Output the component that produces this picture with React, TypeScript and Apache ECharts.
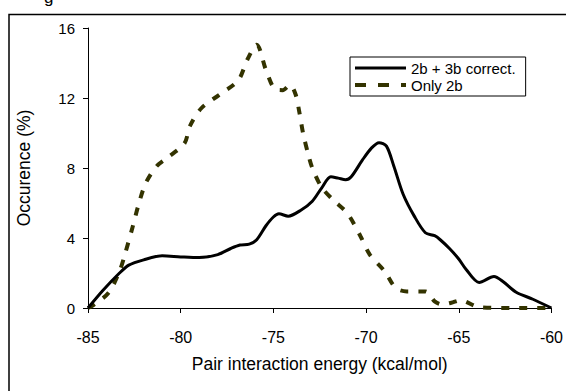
import React, { useEffect, useRef } from "react";
import * as echarts from "echarts";

// X tick range (kcal/mol)
const xMin = -85;
const xMax = -60;
const xInterval = 5;
// Y tick range (%)
const yMin = 0;
const yMax = 16;
const yInterval = 4;

const seriesNames = ["2b + 3b correct.", "Only 2b"];

// Series 1: 2b + 3b correct.
const fullEnergy = [
  -85, -84.2, -83.3, -82.8, -82, -81, -80, -79, -78, -77.3, -76.8, -76.3, -75.9,
  -75.4, -75, -74.7, -74.2, -73.5, -72.9, -72.4, -71.9, -71.5, -71.1, -70.8,
  -70.2, -69.7, -69.3, -68.9, -68.5, -68, -67.4, -66.8, -66.3, -66, -65.5, -65,
  -64.6, -63.9, -63.1, -62.6, -61.9, -61, -60,
];
const fullOccurrence = [
  0, 1.0, 2.0, 2.45, 2.75, 2.98, 2.92, 2.88, 3.05, 3.4, 3.6, 3.65, 3.9, 4.7,
  5.2, 5.38, 5.25, 5.6, 6.1, 6.85, 7.5, 7.42, 7.33, 7.5, 8.45, 9.15, 9.45, 9.25,
  8.1, 6.5, 5.25, 4.3, 4.13, 3.9, 3.4, 2.8, 2.2, 1.46, 1.8, 1.5, 0.9, 0.5, 0,
];

// Series 2: Only 2b
const twoBodyEnergy = [
  -85, -84.8, -83.9, -83.3, -83, -82.6, -82.3, -81.9, -81.3, -80.7, -79.8,
  -79.5, -78.9, -77.9, -76.9, -76.4, -75.9, -75.4, -74.9, -74.5, -74.1, -73.8,
  -73.6, -73.4, -73.1, -72.9, -72.4, -71.8, -71, -70.3, -69.8, -69, -68.4,
  -67.8, -66.8, -66.3, -65.9, -65.4, -64.9, -63.9, -62, -60,
];
const twoBodyOccurrence = [
  0, 0.1, 0.86, 2.1, 3.1, 4.6, 5.8, 7.1, 8.1, 8.6, 9.4, 10.4, 11.4, 12.2, 13.0,
  14.2, 15.05, 13.6, 12.5, 12.45, 12.75, 12.2, 11.2, 10.0, 8.7, 8.0, 6.9, 6.2,
  5.4, 4.1, 3.05, 2.1, 1.14, 0.95, 0.95, 0.38, 0.2, 0.3, 0.44, 0.05, 0, 0,
];

const FONT = "'Liberation Sans', Arial, sans-serif";

export default function App() {
  const ref = useRef<HTMLDivElement>(null);

  useEffect(() => {
    if (!ref.current) return;
    const chart = echarts.init(ref.current, undefined, { renderer: "svg" });
    const pairs = (xs: number[], ys: number[]) => xs.map((x, i) => [x, ys[i]]);

    chart.setOption({
      animation: false,
      backgroundColor: "#ffffff",
      textStyle: { fontFamily: FONT },
      grid: { left: 88, right: 13, top: 28, bottom: 83, containLabel: false },
      graphic: [
        {
          type: "rect",
          shape: { x: 9, y: 14.5, width: 700, height: 500 },
          style: { fill: "none", stroke: "#000", lineWidth: 1.5 },
          silent: true,
          z: -1,
        },
        {
          type: "text",
          x: 44,
          y: 6,
          style: {
            text: "g",
            fontSize: 17,
            fontFamily: FONT,
            fill: "#000",
            verticalAlign: "bottom",
          },
          silent: true,
        },
      ],
      legend: {
        show: true,
        orient: "vertical",
        left: 350,
        top: 57,
        padding: [3.5, 10, 3.5, 3],
        itemWidth: 51,
        itemHeight: 14,
        itemGap: 2,
        borderColor: "#000",
        borderWidth: 1,
        backgroundColor: "#ffffff",
        textStyle: { fontSize: 15, color: "#000", fontFamily: FONT },
        itemStyle: { color: "rgba(0,0,0,0)", borderWidth: 0, opacity: 0 },
        data: [
          { name: seriesNames[0], lineStyle: { width: 3, color: "#000" } },
          {
            name: seriesNames[1],
            lineStyle: { width: 4, color: "#333300", type: [11, 12] },
          },
        ],
      },
      xAxis: {
        type: "value",
        min: xMin,
        max: xMax,
        interval: xInterval,
        name: "Pair interaction energy (kcal/mol)",
        nameLocation: "middle",
        nameGap: 47,
        nameTextStyle: { fontSize: 17.5, color: "#000", fontFamily: FONT },
        axisLine: { onZero: false, lineStyle: { color: "#000", width: 1 } },
        axisTick: { show: true, length: 5, lineStyle: { color: "#000" } },
        axisLabel: { fontSize: 16, color: "#000", margin: 21, fontFamily: FONT },
        splitLine: { show: false },
      },
      yAxis: {
        type: "value",
        min: yMin,
        max: yMax,
        interval: yInterval,
        name: "Occurence (%)",
        nameLocation: "middle",
        nameGap: 55,
        nameTextStyle: { fontSize: 17.5, color: "#000", fontFamily: FONT },
        axisLine: { show: true, lineStyle: { color: "#000", width: 1 } },
        axisTick: { show: true, length: 5, lineStyle: { color: "#000" } },
        axisLabel: { fontSize: 15, color: "#000", margin: 13, fontFamily: FONT },
        splitLine: { show: false },
      },
      series: [
        {
          name: seriesNames[0],
          type: "line",
          data: pairs(fullEnergy, fullOccurrence),
          smooth: 0.3,
          symbol: "none",
          showSymbol: false,
          lineStyle: { color: "#000", width: 3 },
          itemStyle: { color: "#000" },
          z: 3,
        },
        {
          name: seriesNames[1],
          type: "line",
          data: pairs(twoBodyEnergy, twoBodyOccurrence),
          smooth: 0.3,
          symbol: "none",
          showSymbol: false,
          lineStyle: { color: "#333300", width: 4, type: [8, 10] },
          itemStyle: { color: "#333300" },
          z: 2,
        },
      ],
    });
    return () => chart.dispose();
  }, []);

  return (
    <div
      ref={ref}
      style={{ position: "absolute", left: 0, top: 0, width: 566, height: 391 }}
    />
  );
}
